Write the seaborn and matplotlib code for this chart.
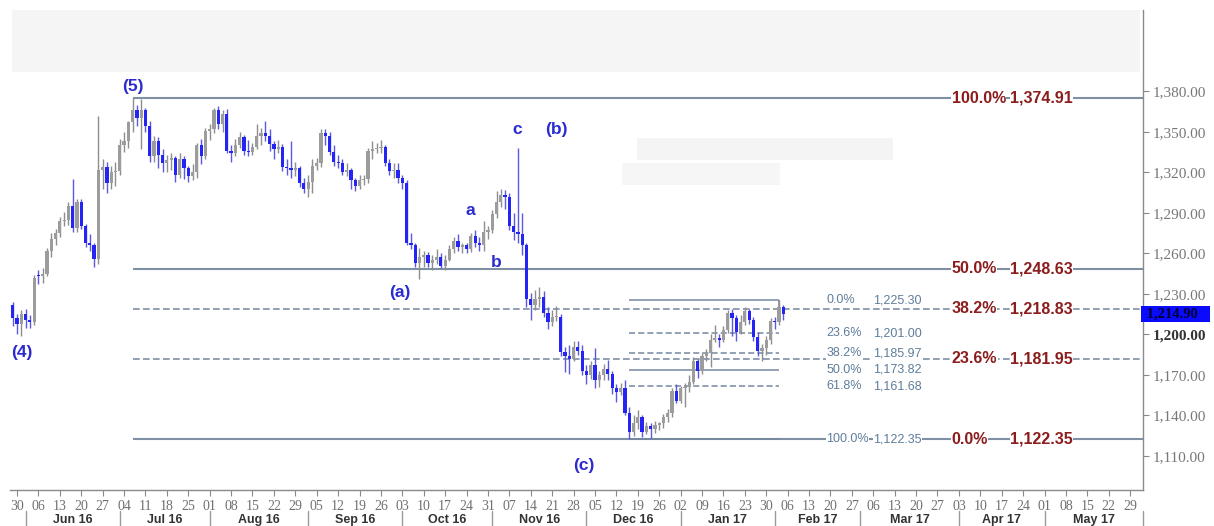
import numpy as np
import pandas as pd
import matplotlib
matplotlib.use("Agg")
import matplotlib.pyplot as plt
from matplotlib.patches import Rectangle
import seaborn as sns

# --- daily candles, 27 May 2016 .. 3 Feb 2017 (one line = one week) ---
opens = [
    1222,
    1212, 1208, 1215, 1211, 1209,
    1244, 1243, 1245, 1262, 1271,
    1275, 1284, 1285, 1295, 1279,
    1298, 1280, 1268, 1266, 1256,
    1322, 1324, 1312, 1320, 1321,
    1340, 1343, 1357, 1366, 1360,
    1366, 1354, 1332, 1343, 1333,
    1327, 1329, 1331, 1318, 1330,
    1323, 1317, 1320, 1340, 1332,
    1351, 1352, 1366, 1356, 1363,
    1336, 1334, 1340, 1346, 1336,
    1335, 1339, 1347, 1349, 1347,
    1341, 1337, 1339, 1324, 1323,
    1322, 1323, 1312, 1308, 1313,
    1325, 1327, 1349, 1347, 1335,
    1328, 1327, 1320, 1322, 1314,
    1310, 1314, 1315, 1336, 1337,
    1338, 1339, 1327, 1321, 1322,
    1316, 1312, 1268, 1266, 1253,
    1257, 1259, 1253, 1255, 1257,
    1251, 1255, 1263, 1269, 1265,
    1266, 1263, 1273, 1268, 1266,
    1276, 1277, 1289, 1298, 1303,
    1302, 1280, 1276, 1274, 1266,
    1226, 1222, 1226, 1228, 1216,
    1209, 1213, 1213, 1187, 1184,
    1182, 1191, 1188, 1173, 1170,
    1177, 1166, 1170, 1174, 1171,
    1160, 1157, 1160, 1142, 1128,
    1134, 1139, 1128, 1132, 1130,
    1133, 1134, 1139, 1142, 1158,
    1151, 1160, 1161, 1165, 1180,
    1173, 1184, 1186, 1196, 1197,
    1196, 1203, 1216, 1212, 1202,
    1209, 1217, 1211, 1198, 1188,
    1190, 1196, 1210, 1209, 1220,
]
highs = [
    1224,
    1215, 1218, 1219, 1214, 1244,
    1248, 1249, 1264, 1275, 1278,
    1287, 1291, 1298, 1315, 1300,
    1300, 1282, 1274, 1268, 1362,
    1330, 1328, 1325, 1328, 1345,
    1350, 1358, 1374.91, 1370, 1374,
    1368, 1358, 1347, 1346, 1337,
    1333, 1334, 1332, 1334, 1332,
    1325, 1326, 1342, 1345, 1353,
    1356, 1368, 1369, 1366, 1367,
    1340, 1345, 1350, 1348, 1344,
    1342, 1356, 1353, 1358, 1352,
    1343, 1344, 1341, 1330, 1343,
    1328, 1325, 1316, 1318, 1330,
    1331, 1352, 1352, 1350, 1340,
    1333, 1330, 1327, 1323, 1316,
    1318, 1318, 1338, 1343, 1342,
    1344, 1340, 1330, 1327, 1327,
    1318, 1314, 1275, 1268, 1264,
    1262, 1261, 1259, 1263, 1260,
    1259, 1266, 1272, 1274, 1268,
    1268, 1275, 1277, 1272, 1284,
    1280, 1292, 1306, 1308, 1307,
    1305, 1290, 1338, 1290, 1268,
    1231, 1233, 1235, 1232, 1220,
    1218, 1221, 1215, 1191, 1192,
    1195, 1195, 1192, 1177, 1180,
    1190, 1173, 1178, 1181, 1173,
    1163, 1164, 1166, 1146, 1140,
    1144, 1140, 1135, 1134, 1136,
    1135, 1141, 1145, 1160, 1163,
    1162, 1164, 1170, 1183, 1182,
    1186, 1189, 1200, 1207, 1200,
    1206, 1218, 1219, 1214, 1214,
    1220, 1219, 1213, 1202, 1193,
    1199, 1212, 1213, 1225.30, 1222,
]
lows = [
    1206,
    1200, 1199, 1205, 1205, 1207,
    1237, 1238, 1243, 1257, 1266,
    1272, 1280, 1281, 1276, 1276,
    1278, 1265, 1262, 1250, 1252,
    1308, 1305, 1308, 1310, 1318,
    1335, 1338, 1350, 1354, 1337,
    1350, 1328, 1328, 1323, 1320,
    1320, 1322, 1313, 1316, 1315,
    1313, 1314, 1316, 1326, 1330,
    1344, 1349, 1352, 1350, 1334,
    1328, 1332, 1338, 1333, 1332,
    1333, 1337, 1340, 1343, 1336,
    1330, 1334, 1321, 1318, 1316,
    1317, 1309, 1305, 1302, 1305,
    1322, 1324, 1340, 1333, 1325,
    1323, 1318, 1317, 1308, 1306,
    1308, 1311, 1312, 1330, 1334,
    1334, 1325, 1318, 1316, 1312,
    1308, 1266, 1263, 1250, 1241,
    1250, 1250, 1248, 1252, 1249,
    1248, 1254, 1260, 1262, 1260,
    1260, 1261, 1265, 1262, 1262,
    1271, 1275, 1286, 1294, 1293,
    1277, 1270, 1268, 1259, 1220,
    1211, 1218, 1220, 1213, 1204,
    1206, 1210, 1184, 1172, 1171,
    1180, 1185, 1170, 1163, 1167,
    1160, 1161, 1166, 1166, 1156,
    1150, 1155, 1140, 1122.35, 1125,
    1130, 1124, 1126, 1123, 1127,
    1129, 1131, 1135, 1139, 1149,
    1149, 1146, 1157, 1163, 1168,
    1171, 1180, 1176, 1194, 1191,
    1194, 1201, 1199, 1195, 1200,
    1207, 1208, 1195, 1184, 1180,
    1185, 1193, 1204, 1207, 1211,
]
closes = [
    1212,
    1208, 1215, 1211, 1209, 1242,
    1243, 1245, 1262, 1271, 1275,
    1284, 1285, 1295, 1279, 1298,
    1280, 1268, 1266, 1256, 1322,
    1324, 1312, 1320, 1321, 1340,
    1343, 1357, 1366, 1360, 1366,
    1354, 1332, 1343, 1333, 1327,
    1329, 1331, 1318, 1330, 1323,
    1317, 1320, 1340, 1332, 1351,
    1352, 1366, 1356, 1363, 1336,
    1334, 1340, 1346, 1336, 1335,
    1339, 1347, 1349, 1347, 1341,
    1337, 1339, 1324, 1323, 1322,
    1323, 1312, 1308, 1313, 1325,
    1327, 1349, 1347, 1335, 1328,
    1327, 1320, 1322, 1314, 1310,
    1314, 1315, 1336, 1337, 1338,
    1339, 1327, 1321, 1322, 1316,
    1312, 1268, 1266, 1253, 1257,
    1259, 1253, 1255, 1257, 1251,
    1255, 1263, 1269, 1265, 1266,
    1263, 1273, 1268, 1266, 1276,
    1277, 1289, 1298, 1303, 1302,
    1280, 1276, 1274, 1266, 1226,
    1222, 1226, 1228, 1216, 1209,
    1213, 1213, 1187, 1184, 1182,
    1191, 1188, 1173, 1170, 1177,
    1166, 1170, 1174, 1171, 1160,
    1157, 1160, 1142, 1128, 1134,
    1139, 1128, 1132, 1130, 1133,
    1134, 1139, 1142, 1158, 1151,
    1160, 1161, 1165, 1180, 1173,
    1184, 1186, 1196, 1197, 1196,
    1203, 1216, 1212, 1202, 1209,
    1217, 1211, 1198, 1188, 1190,
    1196, 1210, 1209, 1220, 1214.90,
]
dates = pd.bdate_range("2016-05-27", "2017-02-03")
last_price = 1214.90

# fibonacci retracement of the Jul-Dec swing
main_pct = ["100.0%", "50.0%", "38.2%", "23.6%", "0.0%"]
main_levels = [1374.91, 1248.63, 1218.83, 1181.95, 1122.35]
main_dashed = [False, False, True, True, False]

# retracement of the Dec-Feb rebound
sub_pct = ["0.0%", "23.6%", "38.2%", "50.0%", "61.8%", "100.0%"]
sub_levels = [1225.30, 1201.00, 1185.97, 1173.82, 1161.68, 1122.35]
sub_dashed = [False, True, True, False, True, False]

# elliott wave labels
wave_text = ["(5)", "(4)", "c", "(b)", "a", "b", "(a)", "(c)"]

yticks = np.arange(1110, 1381, 30)

# --- style ---
sns.set_theme(style="white")
plt.rcParams["font.family"] = ["Liberation Sans", "DejaVu Sans"]

df = pd.DataFrame({"date": dates, "open": opens, "high": highs,
                   "low": lows, "close": closes})
base = np.datetime64("2016-05-30")


def bpos(d):
    return np.busday_count(base, np.asarray(d, dtype="datetime64[D]"))


df["x"] = bpos(df["date"].values)
up = df["close"] >= df["open"]

fig = plt.figure(figsize=(12.14, 5.26), dpi=100)
ax = fig.add_axes([10 / 1214, 36 / 526, 1133 / 1214, 480 / 526])
ax.set_facecolor("white")

x_lo, x_hi = -1.64, 263.0
y_lo, y_hi = 1084.7, 1440.3

# fib lines (main)
line_col = "#7f8fa4"
start_main = bpos("2016-07-06")
for pct, lvl, dsh in zip(main_pct, main_levels, main_dashed):
    ax.hlines(lvl, start_main, x_hi + 5, colors=line_col,
              linestyles=(0, (4, 2)) if dsh else "solid",
              lw=1.2 if dsh else 1.5, zorder=1)
    ax.text(218.3, lvl, pct, ha="left", va="center", fontsize=11.5,
            fontweight="bold", color="#8b1d1d", zorder=5,
            bbox=dict(facecolor="white", edgecolor="none", pad=0.3))
    ax.text(246.6, lvl, f"{lvl:,.2f}", ha="right", va="center", fontsize=11.5,
            fontweight="bold", color="#8b1d1d", zorder=5,
            bbox=dict(facecolor="white", edgecolor="none", pad=0.3))

# fib lines (rebound)
s0, s1 = bpos("2016-12-15"), bpos("2017-02-02")
for pct, lvl, dsh in zip(sub_pct, sub_levels, sub_dashed):
    ax.hlines(lvl, s0, s1, colors="#7488a0",
              linestyles=(0, (4, 2)) if dsh else "solid", lw=1.1, zorder=1)
    ax.text(189.0, lvl, pct, ha="left", va="center", fontsize=9,
            color="#5f7d9b", zorder=5,
            bbox=dict(facecolor="white", edgecolor="none", pad=0.3))
    ax.text(200.0, lvl, f"{lvl:,.2f}", ha="left", va="center", fontsize=9,
            color="#5f7d9b", zorder=5,
            bbox=dict(facecolor="white", edgecolor="none", pad=0.3))
ax.vlines(s1, 1217, sub_levels[0], colors="#7488a0", lw=1.1, zorder=1)

# candles
up_col, dn_col = "#9c9c9c", "#2424f4"
ax.vlines(df.loc[up, "x"], df.loc[up, "low"], df.loc[up, "high"],
          colors="#8e8e8e", lw=1.0, zorder=2)
ax.vlines(df.loc[~up, "x"], df.loc[~up, "low"], df.loc[~up, "high"],
          colors="#5a5ae0", lw=1.0, zorder=2)
body_lo = df[["open", "close"]].min(axis=1)
body_h = (df["close"] - df["open"]).abs().clip(lower=0.8)
ax.bar(df.loc[up, "x"], body_h[up], bottom=body_lo[up], width=0.75,
       color=up_col, edgecolor="none", zorder=3)
ax.bar(df.loc[~up, "x"], body_h[~up], bottom=body_lo[~up], width=0.75,
       color=dn_col, edgecolor="none", zorder=3)

# wave labels
wave_pos = [(27.1, 1383.3), (1.2, 1186.2), (116.8, 1352.1), (125.9, 1351.4),
            (105.8, 1291.4), (111.9, 1253.6), (89.5, 1230.7), (132.4, 1102.5)]
for t, (wx, wy) in zip(wave_text, wave_pos):
    ax.text(wx, wy, t, ha="center", va="center", fontsize=12.5,
            fontweight="bold", color="#2b2bd0", zorder=6)

# axes
ax.set_xlim(x_lo, x_hi)
ax.set_ylim(y_lo, y_hi)
sns.despine(ax=ax, left=True, top=True, right=False, bottom=False)
for side in ("right", "bottom"):
    ax.spines[side].set_color("#8a8a8a")
    ax.spines[side].set_linewidth(1.0)

ax.yaxis.tick_right()
ax.set_yticks(yticks)
ax.set_yticklabels([f"{v:,.2f}" for v in yticks])
ax.tick_params(axis="y", which="both", right=True, length=4, width=0.8,
               color="#8a8a8a", pad=3, labelsize=11, labelcolor="#777777")
for lab in ax.get_yticklabels():
    lab.set_family(["Liberation Serif", "DejaVu Serif"])
    if lab.get_text() == "1,200.00":
        lab.set_fontweight("bold")
        lab.set_color("#333333")

mondays = pd.date_range("2016-05-30", "2017-05-29", freq="W-MON")
ax.set_xticks(bpos(mondays.values))
ax.set_xticklabels(mondays.strftime("%d"))
ax.tick_params(axis="x", bottom=True, length=4, width=0.8, color="#8a8a8a",
               pad=3, labelsize=10, labelcolor="#707070")
for lab in ax.get_xticklabels():
    lab.set_family(["Liberation Serif", "DejaVu Serif"])

# month band
months = pd.date_range("2016-06-01", "2017-06-01", freq="MS")
mpos = [bpos(np.busday_offset(np.datetime64(m.date(), "D"), 0, roll="forward"))
        for m in months]
tr = ax.get_xaxis_transform()
for p in mpos:
    ax.plot([p, p], [-0.044, -0.08], transform=tr, clip_on=False,
            color="#9a9a9a", lw=1.0)
for m, a, b in zip(months[:-1], mpos[:-1], mpos[1:]):
    ax.text((a + b) / 2, -0.0625, m.strftime("%b %y"), transform=tr,
            ha="center", va="center", fontsize=9, fontweight="bold",
            color="#333333")

# last price box
ax.text(1.0, last_price, f" {last_price:,.2f}   ", transform=ax.get_yaxis_transform(),
        ha="left", va="center", fontsize=10.5, fontweight="bold",
        family=["Liberation Serif", "DejaVu Serif"], color="#000033",
        bbox=dict(facecolor="#0a0aff", edgecolor="none", pad=1.2), zorder=7,
        clip_on=False)

# faint blurred areas of the original screenshot
for (x0, y0, x1, y1, c) in [(12, 10, 1140, 72, "#f5f5f5"),
                            (637, 138, 893, 160, "#f4f4f4"),
                            (622, 163, 780, 185, "#f6f6f6")]:
    fig.patches.append(Rectangle((x0 / 1214, 1 - y1 / 526), (x1 - x0) / 1214,
                                 (y1 - y0) / 526, transform=fig.transFigure,
                                 facecolor=c, edgecolor="none", zorder=1))

fig.savefig("out.png", dpi=100)
